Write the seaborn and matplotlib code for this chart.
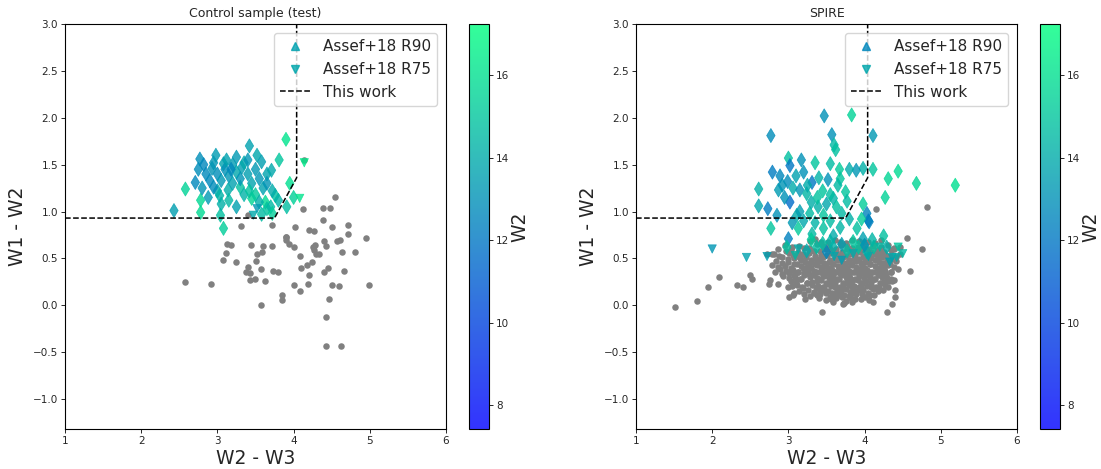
import numpy as np
import pandas as pd
import matplotlib
matplotlib.use("Agg")
import matplotlib.pyplot as plt
import seaborn as sns
from matplotlib.colors import Normalize, ListedColormap
from matplotlib.lines import Line2D
from matplotlib.cm import ScalarMappable

# ---------------- data ----------------
W2_MIN, W2_MAX = 7.42, 17.24
cut_x = [1.0, 3.75, 4.04, 4.04]
cut_y = [0.93, 0.93, 1.36, 3.0]

# Control sample (left)
ctrl_grey_x = [2.58, 2.92, 3.07, 3.11, 3.13, 3.18, 3.24, 3.37, 3.40, 3.43,
               3.43, 3.49, 3.44, 3.51, 3.52, 3.57, 3.58, 3.60, 3.62, 3.57,
               3.72, 3.73, 3.80, 3.85, 3.85, 3.90, 3.90, 3.94, 4.00, 4.00,
               4.09, 4.10, 4.09, 4.17, 4.19, 4.20, 4.25, 4.28, 4.24, 4.29,
               4.27, 4.33, 4.40, 4.40, 4.43, 4.45, 4.46, 4.43, 4.42, 4.50,
               4.57, 4.61, 4.63, 4.66, 4.59, 4.62, 4.72, 4.81, 4.95, 4.99,
               3.40, 3.31, 3.71, 4.02, 4.12, 4.20, 4.27, 4.38, 4.48, 4.39,
               4.50, 4.71, 4.54, 4.14, 3.90]
ctrl_grey_y = [0.25, 0.23, 0.48, 0.56, 0.65, 0.64, 0.46, 0.35, 0.41, 0.34,
               0.27, 0.28, 0.64, 0.47, 0.55, 0.39, 0.57, 0.63, 0.26, 0.00,
               0.63, 0.37, 0.36, 0.11, 0.06, 0.73, 0.70, 0.65, 0.62, 0.22,
               0.53, 0.40, 0.15, 0.43, 0.23, 0.32, 0.62, 0.64, 0.46, 0.55,
               0.59, 0.55, 0.35, 0.69, 0.63, 0.40, 0.07, -0.12, -0.43, 0.22,
               0.69, 0.70, 0.57, 0.37, 0.21, -0.43, 0.76, 0.57, 0.72, 0.22,
               0.96, 0.85, 0.86, 0.83, 1.03, 0.80, 0.79, 1.04, 1.04, 0.91,
               0.84, 0.86, 1.15, 1.55, 0.73]

ctrl_d_x = [2.43, 2.58, 2.78, 2.78, 3.04, 3.08, 3.42, 3.90, 3.81, 3.52,
            2.77, 3.25, 3.08, 2.93, 2.71, 3.95, 4.00, 3.76, 3.63, 3.65,
            3.80, 3.91, 3.45, 3.14, 3.30, 3.65, 3.71, 3.32, 3.58, 2.75,
            2.85, 2.90, 2.80, 2.95, 3.00, 3.05, 3.10, 3.15, 3.20, 3.20,
            3.25, 3.30, 3.35, 3.40, 3.45, 3.50, 3.55, 3.60, 3.65, 3.72,
            3.00, 2.88, 3.05, 3.15, 3.25, 3.35, 3.42, 3.50, 3.55, 3.70,
            3.72, 3.58, 3.40, 2.95, 3.12, 2.98, 3.03, 3.18, 2.82]
ctrl_d_y = [1.01, 1.24, 1.12, 0.99, 0.96, 0.82, 1.70, 1.77, 1.55, 1.60,
            1.56, 1.58, 1.51, 1.46, 1.31, 1.30, 1.15, 1.17, 1.10, 1.03,
            1.12, 1.05, 1.14, 1.23, 1.26, 1.40, 1.44, 1.47, 1.53, 1.45,
            1.40, 1.33, 1.25, 1.52, 1.40, 1.33, 1.45, 1.38, 1.50, 1.30,
            1.42, 1.35, 1.52, 1.40, 1.30, 1.45, 1.35, 1.25, 1.30, 1.22,
            1.22, 1.15, 1.08, 1.12, 1.05, 1.18, 1.22, 1.18, 1.10, 1.05,
            0.98, 0.97, 1.55, 1.26, 1.55, 1.60, 1.17, 1.45, 1.50]
ctrl_d_w2 = [13.5, 15.5, 15.7, 15.8, 14.8, 15.3, 13.6, 16.2, 15.0, 13.8,
             12.9, 13.3, 13.7, 13.1, 12.6, 16.0, 15.4, 14.8, 15.7, 14.9,
             14.3, 14.7, 15.6, 14.1, 14.8, 13.7, 13.9, 13.5, 13.5, 12.8,
             12.7, 12.7, 13.1, 13.2, 12.9, 13.3, 13.0, 13.2, 13.4, 13.6,
             13.8, 13.1, 13.9, 13.5, 13.7, 13.3, 13.2, 13.6, 13.1, 14.0,
             13.9, 13.3, 14.2, 14.5, 13.6, 14.3, 14.9, 15.1, 14.1, 14.5,
             15.3, 14.6, 13.2, 12.8, 13.6, 13.4, 14.3, 12.7, 12.6]

ctrl_v_x = [4.14, 4.08, 3.52, 3.47]
ctrl_v_y = [1.52, 1.14, 1.03, 0.96]
ctrl_v_w2 = [16.4, 16.2, 13.3, 13.9]

# SPIRE (right)
spire_grey_x = [1.51, 1.80, 1.94, 2.09, 2.32, 2.41, 2.50, 2.52, 2.74, 3.01,
                3.08, 3.44, 3.33, 3.71, 4.29, 4.36, 4.40, 4.40, 4.36, 4.60,
                4.75, 4.55, 4.15, 4.82, 2.72, 2.79,
                3.28, 3.43, 3.61, 3.76, 3.92, 4.04, 4.21,
                2.95, 3.14, 3.38, 3.53, 3.69, 3.84, 3.97, 4.11, 4.31, 4.46,
                2.86, 3.04, 3.21, 3.34, 3.49, 3.63, 3.77, 3.89, 4.01, 4.16, 4.26, 4.39,
                2.81, 3.01, 3.12, 3.27, 3.43, 3.56, 3.67, 3.81, 3.94, 4.06, 4.19, 4.33, 4.47,
                2.91, 3.07, 3.23, 3.36, 3.46, 3.61, 3.71, 3.86, 3.98, 4.09, 4.23, 4.36,
                2.84, 2.99, 3.16, 3.29, 3.41, 3.53, 3.64, 3.75, 3.89, 4.01, 4.13, 4.24, 4.41,
                2.79, 2.96, 3.11, 3.24, 3.37, 3.49, 3.59, 3.71, 3.83, 3.96, 4.07, 4.21, 4.31,
                2.89, 3.06, 3.19, 3.33, 3.44, 3.57, 3.67, 3.79, 3.91, 4.03, 4.16, 4.27, 4.44,
                2.83, 3.01, 3.13, 3.27, 3.41, 3.52, 3.63, 3.73, 3.87, 3.99, 4.11, 4.23, 4.34,
                2.93, 3.09, 3.21, 3.37, 3.47, 3.59, 3.69, 3.81, 3.93, 4.07, 4.17, 4.29,
                2.76, 3.03, 3.17, 3.31, 3.43, 3.56, 3.66, 3.77, 3.91, 4.02, 4.14, 4.26, 4.39,
                2.87, 3.11, 3.24, 3.39, 3.51, 3.61, 3.74, 3.86, 3.97, 4.09, 4.22,
                3.00, 3.19, 3.36, 3.47, 3.61, 3.72, 3.83, 3.96, 4.08, 4.19, 4.31,
                3.14, 3.33, 3.46, 3.57, 3.69, 3.81, 3.92, 4.04, 4.18,
                3.06, 3.29, 3.42, 3.54, 3.67, 3.79, 3.89, 4.01, 4.12,
                3.22, 3.49, 3.63, 3.76, 3.88, 4.06,
                3.59, 3.73, 3.84, 4.11]
spire_grey_y = [-0.02, 0.05, 0.20, 0.30, 0.22, 0.20, 0.32, 0.28, 0.23, 0.09,
                0.13, -0.07, 0.13, 0.01, -0.07, 0.01, 0.09, 0.16, 0.26, 0.37,
                0.60, 0.72, 1.03, 1.05, 0.55, 0.55,
                0.69, 0.67, 0.70, 0.66, 0.69, 0.67, 0.70,
                0.64, 0.63, 0.65, 0.62, 0.64, 0.61, 0.65, 0.63, 0.64, 0.62,
                0.60, 0.59, 0.61, 0.58, 0.60, 0.57, 0.60, 0.58, 0.61, 0.59, 0.57, 0.60,
                0.55, 0.56, 0.53, 0.56, 0.54, 0.56, 0.53, 0.55, 0.57, 0.54, 0.56, 0.53, 0.55,
                0.51, 0.50, 0.52, 0.49, 0.51, 0.50, 0.52, 0.49, 0.51, 0.50, 0.52, 0.49,
                0.47, 0.46, 0.48, 0.45, 0.47, 0.46, 0.48, 0.45, 0.47, 0.46, 0.48, 0.45, 0.47,
                0.43, 0.42, 0.44, 0.41, 0.43, 0.42, 0.44, 0.41, 0.43, 0.42, 0.44, 0.41, 0.43,
                0.39, 0.38, 0.40, 0.37, 0.39, 0.38, 0.40, 0.37, 0.39, 0.38, 0.40, 0.37, 0.39,
                0.35, 0.34, 0.36, 0.33, 0.35, 0.34, 0.36, 0.33, 0.35, 0.34, 0.36, 0.33, 0.35,
                0.31, 0.30, 0.32, 0.29, 0.31, 0.30, 0.32, 0.29, 0.31, 0.30, 0.32, 0.29,
                0.27, 0.26, 0.28, 0.25, 0.27, 0.26, 0.28, 0.25, 0.27, 0.26, 0.28, 0.25, 0.27,
                0.23, 0.22, 0.24, 0.21, 0.23, 0.22, 0.24, 0.21, 0.23, 0.22, 0.24,
                0.19, 0.18, 0.20, 0.17, 0.19, 0.18, 0.20, 0.17, 0.19, 0.18, 0.20,
                0.15, 0.14, 0.16, 0.13, 0.15, 0.14, 0.16, 0.13, 0.15,
                0.11, 0.10, 0.12, 0.09, 0.11, 0.10, 0.12, 0.09, 0.11,
                0.07, 0.06, 0.08, 0.05, 0.07, 0.06,
                0.03, 0.02, 0.04, 0.03]

# extra sources filling the dense SPIRE core
spire_core_x = [3.35, 3.52, 3.68, 3.84, 3.99, 4.13,
                3.05, 3.27, 3.46, 3.62, 3.77, 3.91, 4.04, 4.21, 4.38,
                2.97, 3.13, 3.28, 3.42, 3.56, 3.70, 3.83, 3.95, 4.09, 4.22, 4.34,
                2.88, 3.06, 3.19, 3.35, 3.50, 3.62, 3.75, 3.88, 4.00, 4.13, 4.27, 4.41,
                2.99, 3.15, 3.30, 3.41, 3.55, 3.66, 3.79, 3.93, 4.04, 4.17, 4.30,
                2.92, 3.08, 3.22, 3.35, 3.47, 3.58, 3.70, 3.82, 3.95, 4.07, 4.19, 4.33,
                2.87, 3.03, 3.17, 3.30, 3.43, 3.54, 3.65, 3.77, 3.89, 4.01, 4.14, 4.26, 4.38,
                2.97, 3.12, 3.26, 3.38, 3.50, 3.61, 3.73, 3.85, 3.97, 4.09, 4.21, 4.35,
                2.91, 3.07, 3.20, 3.34, 3.46, 3.57, 3.68, 3.80, 3.93, 4.05, 4.17, 4.28,
                3.01, 3.15, 3.29, 3.42, 3.53, 3.64, 3.75, 3.87, 3.99, 4.12, 4.23, 4.35,
                3.10, 3.24, 3.37, 3.49, 3.61, 3.71, 3.83, 3.95, 4.08, 4.20, 4.32,
                3.05, 3.18, 3.31, 3.45, 3.56, 3.68, 3.80, 3.92, 4.03, 4.15, 4.27,
                3.26, 3.40, 3.52, 3.64, 3.75, 3.87, 3.98, 4.11, 4.24,
                3.20, 3.37, 3.49, 3.61, 3.73, 3.84, 3.96, 4.07,
                3.40, 3.56, 3.70, 3.82, 3.95]
spire_core_y = [0.71, 0.68, 0.67, 0.70, 0.68, 0.66,
                0.62, 0.61, 0.63, 0.60, 0.63, 0.62, 0.60, 0.62, 0.61,
                0.58, 0.57, 0.59, 0.58, 0.59, 0.57, 0.58, 0.59, 0.57, 0.58, 0.59,
                0.53, 0.54, 0.55, 0.53, 0.54, 0.55, 0.53, 0.54, 0.53, 0.55, 0.54, 0.52,
                0.49, 0.50, 0.48, 0.49, 0.48, 0.50, 0.48, 0.49, 0.48, 0.50, 0.48,
                0.45, 0.44, 0.46, 0.44, 0.45, 0.44, 0.46, 0.44, 0.45, 0.44, 0.46, 0.44,
                0.41, 0.40, 0.42, 0.40, 0.41, 0.40, 0.42, 0.40, 0.41, 0.40, 0.42, 0.40, 0.41,
                0.37, 0.36, 0.38, 0.36, 0.37, 0.36, 0.38, 0.36, 0.37, 0.36, 0.38, 0.36,
                0.33, 0.32, 0.34, 0.32, 0.33, 0.32, 0.34, 0.32, 0.33, 0.32, 0.34, 0.32,
                0.29, 0.28, 0.30, 0.28, 0.29, 0.28, 0.30, 0.28, 0.29, 0.28, 0.30, 0.28,
                0.25, 0.24, 0.26, 0.24, 0.25, 0.24, 0.26, 0.24, 0.25, 0.24, 0.26,
                0.21, 0.20, 0.22, 0.20, 0.21, 0.20, 0.22, 0.20, 0.21, 0.20, 0.22,
                0.16, 0.17, 0.15, 0.16, 0.17, 0.15, 0.16, 0.17, 0.16,
                0.12, 0.11, 0.13, 0.12, 0.11, 0.13, 0.12, 0.11,
                0.08, 0.07, 0.09, 0.08, 0.07]

spire_d_x = [3.47, 3.83, 2.77, 3.57, 4.11, 3.60, 3.62, 3.00, 3.17, 3.35,
             3.55, 3.02, 3.67, 3.98, 4.11, 3.89, 4.44, 4.31, 4.68, 5.19,
             2.79, 2.89, 2.99, 3.31, 3.52, 3.68, 3.65, 2.61, 2.87, 3.06,
             3.15, 3.24, 3.75, 4.27, 2.61, 2.73, 3.02, 3.98, 3.77, 3.59,
             3.63, 3.39, 2.85, 3.11, 3.15, 3.28, 3.46, 4.03, 4.05, 2.77,
             3.00, 3.13, 3.31, 3.46, 3.59, 3.68, 3.90, 3.96, 4.06, 4.25,
             2.92, 3.10, 3.20, 3.40, 3.45, 3.55, 3.30, 3.50, 3.70, 3.05,
             3.20, 3.35, 3.55, 3.80, 3.25, 3.38, 2.95, 3.80, 2.98, 3.24,
             3.37, 3.50, 3.59, 3.70, 3.77, 3.92, 3.98, 4.03, 4.12, 4.29,
             3.55, 3.85, 4.10, 3.45, 3.30, 4.00]
spire_d_y = [2.02, 2.03, 1.81, 1.82, 1.81, 1.71, 1.66, 1.57, 1.55, 1.52,
             1.51, 1.49, 1.45, 1.46, 1.45, 1.44, 1.43, 1.35, 1.30, 1.28,
             1.42, 1.38, 1.32, 1.31, 1.34, 1.35, 1.28, 1.24, 1.23, 1.25,
             1.23, 1.19, 1.21, 1.15, 1.06, 1.03, 1.10, 1.08, 1.11, 1.14,
             1.05, 1.05, 0.96, 0.96, 1.00, 0.98, 0.96, 0.98, 0.90, 0.82,
             0.71, 0.82, 0.76, 0.82, 0.74, 0.83, 0.82, 0.92, 0.89, 0.74,
             1.28, 1.38, 1.42, 1.36, 1.22, 1.18, 1.10, 1.08, 0.98, 0.88,
             0.90, 0.88, 0.90, 0.92, 1.28, 1.15, 1.15, 1.45, 0.62, 0.58,
             0.62, 0.57, 0.62, 0.65, 0.58, 0.62, 0.71, 0.57, 0.62, 0.62,
             0.68, 0.68, 0.70, 0.66, 0.70, 0.64]
spire_d_w2 = [13.0, 15.5, 12.8, 13.0, 13.3, 14.5, 14.8, 14.8, 13.0, 15.0,
              14.6, 12.0, 15.2, 14.2, 15.0, 13.2, 15.8, 15.6, 15.6, 16.0,
              12.2, 12.6, 12.8, 12.0, 13.0, 15.0, 14.5, 14.2, 13.4, 14.0,
              13.2, 14.4, 15.0, 15.5, 13.8, 12.2, 11.6, 15.3, 14.6, 14.3,
              14.8, 14.2, 13.0, 14.0, 13.5, 14.6, 15.0, 12.5, 12.3, 15.0,
              12.4, 15.2, 14.5, 14.8, 14.0, 14.4, 14.8, 15.3, 12.4, 14.8,
              13.1, 13.6, 13.0, 14.3, 15.0, 14.7, 14.1, 13.8, 14.5, 13.3,
              13.9, 14.3, 14.6, 14.2, 14.0, 14.9, 13.0, 14.0, 14.8, 14.0,
              14.7, 12.6, 14.2, 13.5, 14.6, 14.9, 13.6, 14.3, 14.8, 14.2,
              14.3, 15.0, 14.4, 14.6, 15.2, 13.2]

spire_v_x = [2.00, 2.45, 2.72, 3.09, 3.85, 4.20, 4.36, 4.44, 4.42, 4.33,
             3.70, 3.13, 3.60, 4.05, 4.50]
spire_v_y = [0.60, 0.51, 0.52, 0.53, 0.55, 0.62, 0.51, 0.62, 0.51, 0.46,
             0.48, 0.60, 0.52, 0.52, 0.55]
spire_v_w2 = [13.2, 13.6, 13.5, 14.5, 14.0, 14.5, 13.8, 14.9, 14.0, 13.6,
              13.4, 14.0, 13.8, 14.0, 14.5]

legend_labels = ["Assef+18 R90", "Assef+18 R75", "This work"]
x_ticks = [1, 2, 3, 4, 5, 6]
y_ticks = [-1.0, -0.5, 0.0, 0.5, 1.0, 1.5, 2.0, 2.5, 3.0]
cbar_ticks = [8, 10, 12, 14, 16]

# ---------------- style ----------------
sns.set_style("ticks")
plt.rcParams["font.family"] = ["DejaVu Sans"]
plt.rcParams["xtick.labelsize"] = 7.5
plt.rcParams["ytick.labelsize"] = 7.5
plt.rcParams["axes.edgecolor"] = "black"
plt.rcParams["axes.linewidth"] = 0.8

norm = Normalize(vmin=W2_MIN, vmax=W2_MAX)
winter = plt.get_cmap("winter")
blend = winter(np.linspace(0, 1, 256))
blend[:, :3] = 0.8 * blend[:, :3] + 0.2
cbar_cmap = ListedColormap(blend)

fig = plt.figure(figsize=(11.01, 4.69), dpi=100)
H = 469.0
W = 1101.0
bot = 40 / H
hgt = 405 / H
ax1 = fig.add_axes([65 / W, bot, 381 / W, hgt])
cax1 = fig.add_axes([469 / W, bot, 20 / W, hgt])
ax2 = fig.add_axes([636 / W, bot, 381 / W, hgt])
cax2 = fig.add_axes([1040 / W, bot, 20 / W, hgt])


def panel(ax, cax, title, gx, gy, dx, dy, dw, vx, vy, vw, up_val, down_val):
    sns.scatterplot(x=gx, y=gy, color="grey", s=22, linewidth=0, ax=ax,
                    zorder=1, legend=False)
    sns.scatterplot(x=dx, y=dy, hue=dw, palette="winter", hue_norm=norm,
                    marker="d", s=52, alpha=0.8, edgecolor="face",
                    linewidth=0.5, legend=False, ax=ax, zorder=2)
    sns.scatterplot(x=vx, y=vy, hue=vw, palette="winter", hue_norm=norm,
                    marker="v", s=36, alpha=0.8, edgecolor="face",
                    linewidth=0.5, legend=False, ax=ax, zorder=3)
    ax.plot(cut_x, cut_y, ls="--", color="black", lw=1.1, zorder=4)

    ax.set_xlim(1, 6)
    ax.set_ylim(-1.32, 3.0)
    ax.set_xticks(x_ticks)
    ax.set_yticks(y_ticks)
    ax.set_xticklabels([str(t) for t in x_ticks])
    ax.set_yticklabels([f"{t:.1f}".replace("-", "\u2212") for t in y_ticks])
    ax.tick_params(width=0.7, length=3, pad=2)
    ax.set_xlabel("W2 - W3", fontsize=13.5, labelpad=2)
    ax.set_ylabel("W1 - W2", fontsize=13.5, labelpad=4)
    ax.set_title(title, fontsize=9, pad=5)

    handles = [
        Line2D([], [], marker="^", ls="none", markersize=6,
               color=winter(norm(up_val)), alpha=0.8),
        Line2D([], [], marker="v", ls="none", markersize=6,
               color=winter(norm(down_val)), alpha=0.8),
        Line2D([], [], ls="--", color="black", lw=1.1),
    ]
    ax.legend(handles, legend_labels, loc="upper right", fontsize=11,
              handlelength=2.0, borderaxespad=0.6)

    sm = ScalarMappable(norm=norm, cmap=cbar_cmap)
    cb = fig.colorbar(sm, cax=cax)
    cb.set_ticks(cbar_ticks)
    cb.ax.tick_params(labelsize=7.5, width=0.7, length=3, pad=2)
    cb.set_label("W2", fontsize=13.5, labelpad=1)
    cb.outline.set_linewidth(0.8)


panel(ax1, cax1, "Control sample (test)", ctrl_grey_x, ctrl_grey_y,
      ctrl_d_x, ctrl_d_y, ctrl_d_w2, ctrl_v_x, ctrl_v_y, ctrl_v_w2, 13.6, 13.8)
panel(ax2, cax2, "SPIRE", spire_grey_x + spire_core_x,
      spire_grey_y + spire_core_y,
      spire_d_x, spire_d_y, spire_d_w2, spire_v_x, spire_v_y, spire_v_w2, 12.6, 13.8)

fig.savefig("out.png", dpi=100)
